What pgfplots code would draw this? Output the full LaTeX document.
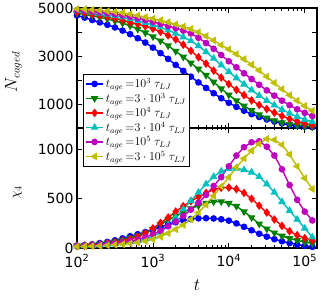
\documentclass[border=0pt]{standalone}
\usepackage{fontspec}
\setmainfont{DejaVu Sans}
\usepackage{pgfplots}
\usepackage{pgfplotstable}
\pgfplotsset{compat=1.18}
\definecolor{mb}{HTML}{0000FF}
\definecolor{mg}{HTML}{008000}
\definecolor{mr}{HTML}{FF0000}
\definecolor{mc}{HTML}{00BFBF}
\definecolor{mm}{HTML}{BF00BF}
\definecolor{my}{HTML}{BFBF00}
\pgfplotstableread{
t      Na   Nb   Nc   Nd   Ne   Nf   Ca   Cb   Cc   Cd   Ce   Cf
100    4690 4780 4830 4890 4910 4960 25   22   22   18   20   15
125.89 4600 4730 4790 4860 4890 4950 30   27   26   21   23   17
158.49 4500 4670 4740 4820 4860 4930 38   33   31   25   27   20
199.53 4400 4610 4690 4780 4830 4900 50   41   38   30   32   23
251.19 4300 4540 4630 4730 4790 4870 62   52   47   36   38   27
316.23 4190 4460 4560 4680 4750 4840 78   65   58   43   45   32
398.11 4060 4370 4490 4620 4700 4800 98   82   72   52   55   38
501.19 3910 4260 4400 4550 4640 4750 120  102  90   62   68   46
630.96 3740 4120 4330 4470 4570 4690 140  125  115  72   85   56
794.33 3560 3970 4240 4390 4500 4620 162  152  150  90   110  70
1000   3350 3810 4140 4300 4420 4560 185  190  200  118  140  88
1258.9 3120 3630 4010 4200 4340 4490 212  240  255  160  175  115
1584.9 2880 3430 3860 4080 4250 4410 240  285  310  230  220  150
1995.3 2630 3200 3690 3940 4160 4320 262  325  370  310  270  190
2511.9 2380 2960 3470 3790 4060 4230 280  365  425  395  325  235
3162.3 2140 2710 3215 3630 3940 4130 295  400  475  480  390  290
3981.1 1900 2460 2950 3420 3760 3990 302  430  520  565  460  360
5011.9 1670 2200 2680 3170 3540 3830 303  455  560  650  540  440
6309.6 1450 1920 2390 2900 3300 3650 300  470  595  725  630  530
7943.3 1240 1640 2100 2620 3040 3460 292  472  612  780  720  625
10000  1050 1380 1830 2340 2780 3280 278  455  615  805  830  720
12589  880  1140 1590 2080 2530 3080 250  425  598  810  940  820
15849  720  920  1370 1820 2280 2870 215  370  560  795  1025 910
19953  580  730  1150 1580 2040 2640 180  310  500  770  1075 990
25119  460  560  960  1350 1800 2400 145  245  430  725  1085 1060
31623  355  420  790  1140 1570 2140 115  195  360  650  1030 1110
39811  265  310  640  950  1350 1880 90   155  290  565  940  1100
50119  190  225  500  770  1140 1620 68   122  225  470  800  1050
63096  130  165  380  610  950  1370 50   97   170  380  640  950
79433  85   115  280  470  780  1140 35   78   130  290  490  830
100000 55   80   190  350  630  920  22   60   100  200  370  710
125893 35   55   125  260  500  720  12   48   78   110  280  600
}\data
\pgfplotsset{
  myax/.style={
    scale only axis, width=240pt, height=120pt,
    xmin=100, xmax=1.45e5,
    tick align=inside, xtick pos=both, ytick pos=both,
    major tick length=5pt, minor tick length=2.5pt,
    every tick/.style={black, line width=0.8pt},
    axis line style={line width=1.2pt},
    tick label style={font=\fontsize{14}{16}\selectfont},
    xticklabel style={yshift=-3pt},
    xtick={100,1000,10000,100000},
  },
  sb/.style={mb, line width=1.4pt, mark=*, mark size=2.6pt, mark options={solid}},
  sg/.style={mg, line width=1.4pt, mark=triangle*, mark size=3.1pt, mark options={solid, rotate=180}},
  sr/.style={mr, line width=1.4pt, mark=diamond*, mark size=3.2pt, mark options={solid}},
  sc/.style={mc, line width=1.4pt, mark=triangle*, mark size=3.1pt, mark options={solid}},
  sm/.style={mm, line width=1.4pt, mark=*, mark size=2.6pt, mark options={solid}},
  sy/.style={my, line width=1.4pt, mark=triangle*, mark size=3.1pt, mark options={solid, rotate=90}},
}
\begin{document}
\begin{tikzpicture}
\path[use as bounding box] (-77pt,-52pt) rectangle (248pt,248pt);
% bottom panel
\begin{axis}[xmode=log, myax, at={(0pt,0pt)}, anchor=south west,
  ymin=0, ymax=1220, ytick={0,500,1000}, yticklabels={0,500,1000},
  xticklabels={10\textsuperscript{2},10\textsuperscript{3},10\textsuperscript{4},10\textsuperscript{5}},
  xlabel={$t$}, xlabel style={font=\fontsize{16}{18}\selectfont, at={(axis description cs:0.5,-0.31)}, anchor=center},
  ylabel={$\chi_4$}, ylabel style={font=\fontsize{14}{16}\selectfont, at={(axis description cs:-0.248,0.46)}, anchor=center},
]
\addplot[sb] table[x=t,y=Ca] {\data};
\addplot[sg] table[x=t,y=Cb] {\data};
\addplot[sr] table[x=t,y=Cc] {\data};
\addplot[sc] table[x=t,y=Cd] {\data};
\addplot[sm] table[x=t,y=Ce] {\data};
\addplot[sy] table[x=t,y=Cf] {\data};
\end{axis}
% top panel
\begin{axis}[xmode=log, myax, at={(0pt,120pt)}, anchor=south west,
  ymin=0, ymax=5000, ytick={1000,2000,3000,4000,5000}, yticklabels={1000,,3000,,5000},
  xticklabels={},
  ylabel={$N_{caged}$}, ylabel style={font=\fontsize{16}{18}\selectfont, at={(axis description cs:-0.265,0.47)}, anchor=center},
  legend style={at={(axis description cs:0.025,0.45)}, anchor=north west, draw=black, line width=0.8pt, fill=white,
    font=\fontsize{12}{14}\selectfont, inner sep=2pt, row sep=-0.5pt},
  legend cell align=left,
]
\addplot[sb] table[x=t,y=Na] {\data};
\addlegendentry{$t_{age}\,{=}10^3\;\tau_{LJ}$}
\addplot[sg] table[x=t,y=Nb] {\data};
\addlegendentry{$t_{age}\,{=}3\cdot10^3\;\tau_{LJ}$}
\addplot[sr] table[x=t,y=Nc] {\data};
\addlegendentry{$t_{age}\,{=}10^4\;\tau_{LJ}$}
\addplot[sc] table[x=t,y=Nd] {\data};
\addlegendentry{$t_{age}\,{=}3\cdot10^4\;\tau_{LJ}$}
\addplot[sm] table[x=t,y=Ne] {\data};
\addlegendentry{$t_{age}\,{=}10^5\;\tau_{LJ}$}
\addplot[sy] table[x=t,y=Nf] {\data};
\addlegendentry{$t_{age}\,{=}3\cdot10^5\;\tau_{LJ}$}
\end{axis}
\end{tikzpicture}
\end{document}
